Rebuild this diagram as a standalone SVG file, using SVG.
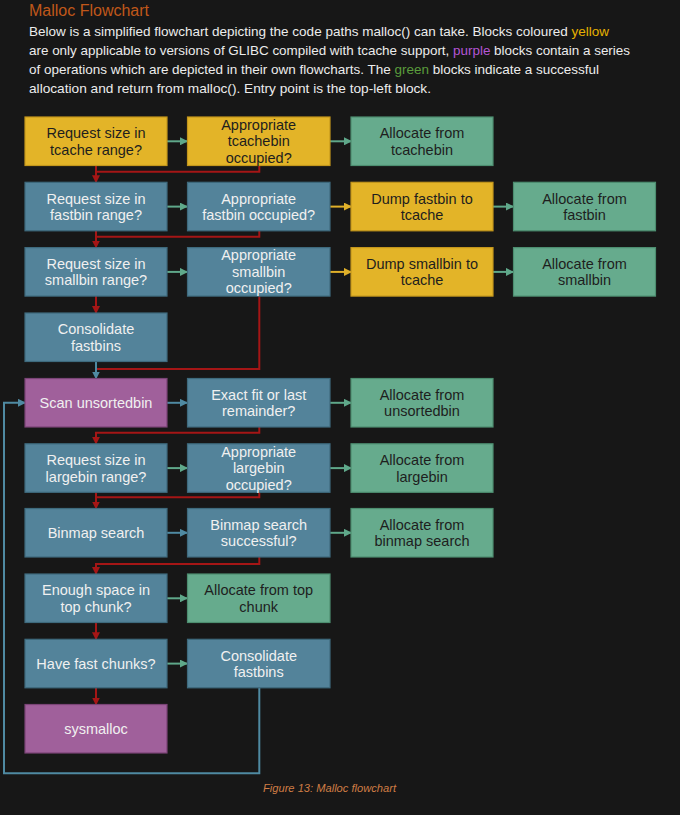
<svg xmlns="http://www.w3.org/2000/svg" width="680" height="815" viewBox="0 0 680 815">
  <style>
    .bg { fill: #171717; }
    .box { stroke-width: 1.2; }
    .y { fill: #e3b428; stroke: #c3961c; }
    .b { fill: #53839a; stroke: #3e6a7d; }
    .g { fill: #66ab8d; stroke: #4d8e70; }
    .p { fill: #a0609b; stroke: #7a4476; }
    .lbl { font-family: "Liberation Sans", Arial, sans-serif; font-size: 14.5px; text-anchor: middle; }
    .dark { fill: #1e1e1e; }
    .light { fill: #f0f0f0; }
    .con { fill: none; stroke-width: 2; }
    .red { stroke: #a51616; }
    .grn { stroke: #5fa88a; }
    .ylw { stroke: #e0b02a; }
    .blu { stroke: #4f8aa2; }
    .title { font-family: "Liberation Sans", Arial, sans-serif; font-size: 16px; fill: #c0571a; }
    .body { font-family: "Liberation Sans", Arial, sans-serif; font-size: 13px; fill: #ececec; }
    .cap { font-family: "Liberation Sans", Arial, sans-serif; font-size: 11px; font-style: italic; fill: #cf7d45; }
  </style>
  <defs>
    <marker id="ah-red" markerUnits="userSpaceOnUse" markerWidth="8" markerHeight="8" refX="7" refY="4" orient="auto">
      <path d="M0,0 L8,4 L0,8 z" fill="#a51616"/>
    </marker>
    <marker id="ah-grn" markerUnits="userSpaceOnUse" markerWidth="8" markerHeight="8" refX="7" refY="4" orient="auto">
      <path d="M0,0 L8,4 L0,8 z" fill="#5fa88a"/>
    </marker>
    <marker id="ah-ylw" markerUnits="userSpaceOnUse" markerWidth="8" markerHeight="8" refX="7" refY="4" orient="auto">
      <path d="M0,0 L8,4 L0,8 z" fill="#e0b02a"/>
    </marker>
    <marker id="ah-blu" markerUnits="userSpaceOnUse" markerWidth="8" markerHeight="8" refX="7" refY="4" orient="auto">
      <path d="M0,0 L8,4 L0,8 z" fill="#4f8aa2"/>
    </marker>
  </defs>

  <rect class="bg" x="0" y="0" width="680" height="815"/>

  <!-- heading and description -->
  <text class="title" x="29" y="16">Malloc Flowchart</text>
  <text class="body" x="29" y="36" textLength="580" lengthAdjust="spacingAndGlyphs">Below is a simplified flowchart depicting the code paths malloc() can take. Blocks coloured <tspan fill="#e6b000">yellow</tspan></text>
  <text class="body" x="29" y="55" textLength="601" lengthAdjust="spacingAndGlyphs">are only applicable to versions of GLIBC compiled with tcache support, <tspan fill="#b555d6">purple</tspan> blocks contain a series</text>
  <text class="body" x="29" y="74" textLength="570" lengthAdjust="spacingAndGlyphs">of operations which are depicted in their own flowcharts. The <tspan fill="#5a9c3c">green</tspan> blocks indicate a successful</text>
  <text class="body" x="29" y="93" textLength="402" lengthAdjust="spacingAndGlyphs">allocation and return from malloc(). Entry point is the top-left block.</text>

  <!-- connectors -->
  <g id="connectors">
    <!-- horizontal "yes" branches -->
    <line class="con grn" x1="167" y1="141.3" x2="187" y2="141.3" marker-end="url(#ah-grn)"/>
    <line class="con grn" x1="330" y1="141.3" x2="351" y2="141.3" marker-end="url(#ah-grn)"/>
    <line class="con grn" x1="167" y1="206.6" x2="187" y2="206.6" marker-end="url(#ah-grn)"/>
    <line class="con ylw" x1="330" y1="206.6" x2="351" y2="206.6" marker-end="url(#ah-ylw)"/>
    <line class="con grn" x1="493" y1="206.6" x2="513" y2="206.6" marker-end="url(#ah-grn)"/>
    <line class="con grn" x1="167" y1="271.9" x2="187" y2="271.9" marker-end="url(#ah-grn)"/>
    <line class="con ylw" x1="330" y1="271.9" x2="351" y2="271.9" marker-end="url(#ah-ylw)"/>
    <line class="con grn" x1="493" y1="271.9" x2="513" y2="271.9" marker-end="url(#ah-grn)"/>
    <line class="con blu" x1="167" y1="402.8" x2="187" y2="402.8" marker-end="url(#ah-blu)"/>
    <line class="con grn" x1="330" y1="402.8" x2="351" y2="402.8" marker-end="url(#ah-grn)"/>
    <line class="con grn" x1="167" y1="468.1" x2="187" y2="468.1" marker-end="url(#ah-grn)"/>
    <line class="con grn" x1="330" y1="468.1" x2="351" y2="468.1" marker-end="url(#ah-grn)"/>
    <line class="con blu" x1="167" y1="532.8" x2="187" y2="532.8" marker-end="url(#ah-blu)"/>
    <line class="con grn" x1="330" y1="532.8" x2="351" y2="532.8" marker-end="url(#ah-grn)"/>
    <line class="con grn" x1="167" y1="598.3" x2="187" y2="598.3" marker-end="url(#ah-grn)"/>
    <line class="con grn" x1="167" y1="663.6" x2="187" y2="663.6" marker-end="url(#ah-grn)"/>

    <!-- vertical "no" branches -->
    <line class="con red" x1="96" y1="165.5" x2="96" y2="182.3" marker-end="url(#ah-red)"/>
    <polyline class="con red" points="259.3,165.5 259.3,171.7 96,171.7"/>
    <line class="con red" x1="96" y1="230.8" x2="96" y2="247.6" marker-end="url(#ah-red)"/>
    <polyline class="con red" points="259.3,230.8 259.3,236.8 96,236.8"/>
    <line class="con red" x1="96" y1="296.1" x2="96" y2="313" marker-end="url(#ah-red)"/>
    <polyline class="con red" points="259.3,296.1 259.3,369 97,369"/>
    <line class="con blu" x1="96" y1="361.5" x2="96" y2="378.5" marker-end="url(#ah-blu)"/>
    <polyline class="con red" points="259.3,427 259.3,432.7 96,432.7 96,443.8" marker-end="url(#ah-red)"/>
    <line class="con red" x1="96" y1="492.3" x2="96" y2="508.5" marker-end="url(#ah-red)"/>
    <polyline class="con red" points="259.3,492.3 259.3,497.3 96,497.3"/>
    <polyline class="con red" points="259.3,557 259.3,564 96,564 96,574" marker-end="url(#ah-red)"/>
    <line class="con red" x1="96" y1="622.5" x2="96" y2="639.3" marker-end="url(#ah-red)"/>
    <line class="con red" x1="96" y1="687.8" x2="96" y2="704.5" marker-end="url(#ah-red)"/>

    <!-- loop back to the unsorted bin scan -->
    <polyline class="con blu" points="259.3,687.8 259.3,773.3 4,773.3 4,402.8 25,402.8" marker-end="url(#ah-blu)"/>
  </g>

  <!-- row 1 -->
  <g id="tcache-range">
    <rect class="box y" x="25" y="117" width="142" height="48.5"/>
    <text class="lbl dark" x="96" y="138.3">Request size in</text>
    <text class="lbl dark" x="96" y="154.7">tcache range?</text>
  </g>
  <g id="tcachebin-occupied">
    <rect class="box y" x="187.5" y="117" width="142.5" height="48.5"/>
    <text class="lbl dark" x="258.7" y="129.8">Appropriate</text>
    <text class="lbl dark" x="258.7" y="146.3">tcachebin</text>
    <text class="lbl dark" x="258.7" y="162.8">occupied?</text>
  </g>
  <g id="alloc-tcachebin">
    <rect class="box g" x="351" y="117" width="142" height="48.5"/>
    <text class="lbl dark" x="422" y="138.3">Allocate from</text>
    <text class="lbl dark" x="422" y="154.7">tcachebin</text>
  </g>

  <!-- row 2 -->
  <g id="fastbin-range">
    <rect class="box b" x="25" y="182.3" width="142" height="48.5"/>
    <text class="lbl light" x="96" y="203.6">Request size in</text>
    <text class="lbl light" x="96" y="220">fastbin range?</text>
  </g>
  <g id="fastbin-occupied">
    <rect class="box b" x="187.5" y="182.3" width="142.5" height="48.5"/>
    <text class="lbl light" x="258.7" y="203.6">Appropriate</text>
    <text class="lbl light" x="258.7" y="220">fastbin occupied?</text>
  </g>
  <g id="dump-fastbin">
    <rect class="box y" x="351" y="182.3" width="142" height="48.5"/>
    <text class="lbl dark" x="422" y="203.6">Dump fastbin to</text>
    <text class="lbl dark" x="422" y="220">tcache</text>
  </g>
  <g id="alloc-fastbin">
    <rect class="box g" x="513.5" y="182.3" width="142" height="48.5"/>
    <text class="lbl dark" x="584.5" y="203.6">Allocate from</text>
    <text class="lbl dark" x="584.5" y="220">fastbin</text>
  </g>

  <!-- row 3 -->
  <g id="smallbin-range">
    <rect class="box b" x="25" y="247.6" width="142" height="48.5"/>
    <text class="lbl light" x="96" y="268.9">Request size in</text>
    <text class="lbl light" x="96" y="285.3">smallbin range?</text>
  </g>
  <g id="smallbin-occupied">
    <rect class="box b" x="187.5" y="247.6" width="142.5" height="48.5"/>
    <text class="lbl light" x="258.7" y="260.4">Appropriate</text>
    <text class="lbl light" x="258.7" y="276.9">smallbin</text>
    <text class="lbl light" x="258.7" y="293.4">occupied?</text>
  </g>
  <g id="dump-smallbin">
    <rect class="box y" x="351" y="247.6" width="142" height="48.5"/>
    <text class="lbl dark" x="422" y="268.9">Dump smallbin to</text>
    <text class="lbl dark" x="422" y="285.3">tcache</text>
  </g>
  <g id="alloc-smallbin">
    <rect class="box g" x="513.5" y="247.6" width="142" height="48.5"/>
    <text class="lbl dark" x="584.5" y="268.9">Allocate from</text>
    <text class="lbl dark" x="584.5" y="285.3">smallbin</text>
  </g>

  <!-- row 4 -->
  <g id="consolidate-1">
    <rect class="box b" x="25" y="313" width="142" height="48.5"/>
    <text class="lbl light" x="96" y="334.3">Consolidate</text>
    <text class="lbl light" x="96" y="350.7">fastbins</text>
  </g>

  <!-- row 5 -->
  <g id="scan-unsorted">
    <rect class="box p" x="25" y="378.5" width="142" height="48.5"/>
    <text class="lbl light" x="96" y="407.8">Scan unsortedbin</text>
  </g>
  <g id="exact-fit">
    <rect class="box b" x="187.5" y="378.5" width="142.5" height="48.5"/>
    <text class="lbl light" x="258.7" y="399.8">Exact fit or last</text>
    <text class="lbl light" x="258.7" y="416.2">remainder?</text>
  </g>
  <g id="alloc-unsorted">
    <rect class="box g" x="351" y="378.5" width="142" height="48.5"/>
    <text class="lbl dark" x="422" y="399.8">Allocate from</text>
    <text class="lbl dark" x="422" y="416.2">unsortedbin</text>
  </g>

  <!-- row 6 -->
  <g id="largebin-range">
    <rect class="box b" x="25" y="443.8" width="142" height="48.5"/>
    <text class="lbl light" x="96" y="465.1">Request size in</text>
    <text class="lbl light" x="96" y="481.5">largebin range?</text>
  </g>
  <g id="largebin-occupied">
    <rect class="box b" x="187.5" y="443.8" width="142.5" height="48.5"/>
    <text class="lbl light" x="258.7" y="456.6">Appropriate</text>
    <text class="lbl light" x="258.7" y="473.1">largebin</text>
    <text class="lbl light" x="258.7" y="489.6">occupied?</text>
  </g>
  <g id="alloc-largebin">
    <rect class="box g" x="351" y="443.8" width="142" height="48.5"/>
    <text class="lbl dark" x="422" y="465.1">Allocate from</text>
    <text class="lbl dark" x="422" y="481.5">largebin</text>
  </g>

  <!-- row 7 -->
  <g id="binmap-search">
    <rect class="box b" x="25" y="508.5" width="142" height="48.5"/>
    <text class="lbl light" x="96" y="537.8">Binmap search</text>
  </g>
  <g id="binmap-ok">
    <rect class="box b" x="187.5" y="508.5" width="142.5" height="48.5"/>
    <text class="lbl light" x="258.7" y="529.8">Binmap search</text>
    <text class="lbl light" x="258.7" y="546.2">successful?</text>
  </g>
  <g id="alloc-binmap">
    <rect class="box g" x="351" y="508.5" width="142" height="48.5"/>
    <text class="lbl dark" x="422" y="529.8">Allocate from</text>
    <text class="lbl dark" x="422" y="546.2">binmap search</text>
  </g>

  <!-- row 8 -->
  <g id="top-chunk-space">
    <rect class="box b" x="25" y="574" width="142" height="48.5"/>
    <text class="lbl light" x="96" y="595.3">Enough space in</text>
    <text class="lbl light" x="96" y="611.7">top chunk?</text>
  </g>
  <g id="alloc-top">
    <rect class="box g" x="187.5" y="574" width="142.5" height="48.5"/>
    <text class="lbl dark" x="258.7" y="595.3">Allocate from top</text>
    <text class="lbl dark" x="258.7" y="611.7">chunk</text>
  </g>

  <!-- row 9 -->
  <g id="fast-chunks">
    <rect class="box b" x="25" y="639.3" width="142" height="48.5"/>
    <text class="lbl light" x="96" y="668.6">Have fast chunks?</text>
  </g>
  <g id="consolidate-2">
    <rect class="box b" x="187.5" y="639.3" width="142.5" height="48.5"/>
    <text class="lbl light" x="258.7" y="660.6">Consolidate</text>
    <text class="lbl light" x="258.7" y="677">fastbins</text>
  </g>

  <!-- row 10 -->
  <g id="sysmalloc">
    <rect class="box p" x="25" y="704.5" width="142" height="48.5"/>
    <text class="lbl light" x="96" y="733.8">sysmalloc</text>
  </g>

  <text class="cap" x="263" y="792" textLength="133" lengthAdjust="spacingAndGlyphs">Figure 13: Malloc flowchart</text>
</svg>
